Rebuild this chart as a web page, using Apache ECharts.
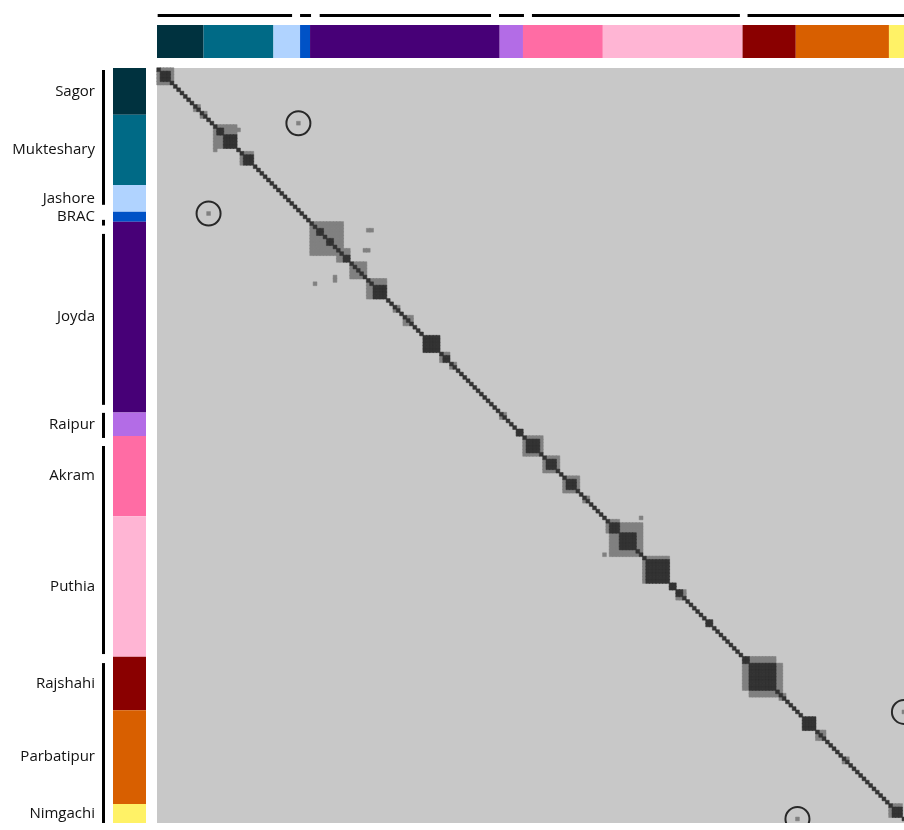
<!DOCTYPE html>
<html><head><meta charset="utf-8">
<script src="https://cdn.jsdelivr.net/npm/echarts@6/dist/echarts.min.js"></script>
<style>html,body{margin:0;padding:0;background:#fff;overflow:hidden;} #c{width:920px;height:823px;}</style>
</head><body><div id="c"></div>
<script>
// ---- data ----
const populations = ['Sagor','Mukteshary','Jashore','BRAC','Joyda','Raipur','Akram','Puthia','Rajshahi','Parbatipur','Nimgachi'];
const popSizes    = [14, 21, 8, 3, 57, 7, 24, 42, 16, 28, 6];
const popColors   = ['#00323f','#006a86','#b0d3ff','#0052c6','#470077','#b36ce6','#ff6ca4','#ffb5d4','#8a0000','#d85f00','#fff266'];
// group brackets (start, end in individual-index units)
const topBrackets  = [[0.2,40.6],[43,46.3],[48.9,100.4],[102.8,110.3],[112.7,175.2],[177.5,226]];
const leftBrackets = [[0.6,40.9],[45.4,47.1],[49.6,100.7],[103.1,110.6],[113,175.2],[177.9,226]];
// square blocks along the diagonal: [first individual, size]
const mediumBlocks = [[0,5],[11,2],[13,2],[17,7],[25,4],[46,10],[54,4],[58,5],[63,6],[71,2],[74,3],[85,3],[88,2],
  [103,2],[110,6],[116,5],[122,5],[128,2],[135,4],[136,10],[146,8],[156,3],[157,2],
  [176,10],[178,10],[187,2],[198,3],[206,2],[220,4]];
const darkBlocks = [[1,3],[18,2],[20,4],[26,3],[48,2],[51,2],[56,2],[65,4],[80,5],[86,2],
  [108,2],[111,4],[117,3],[123,3],[136,3],[139,5],[147,7],[154,2],[156,2],[165,2],
  [176,2],[178,8],[194,4],[221,3]];
// isolated off-diagonal cells of intermediate relatedness: [column, row]
const offDiagonal = [[42,16],[15,43],[24,18],[17,24],[63,48],[64,48],[62,54],[63,54],[53,62],[53,63],[47,64],
  [145,134],[134,145],[224,192],[192,224]];
// circled cells
const circled = [[42,16],[15,43],[224,192],[192,224]];
// relatedness levels -> colours
const levelColors = {1:'#808080', 2:'#333333'};

// ---- layout ----
const N = popSizes.reduce((a,b)=>a+b,0);
const CX = 3.327, CY = 3.345;
const W = N*CX, H = N*CY;
const ids = Array.from({length:N},(_,i)=>String(i));

const level = new Map();
function setCell(x,y,v){const k=x+','+y; if((level.get(k)||0)<v) level.set(k,v);}
mediumBlocks.forEach(([s,n])=>{for(let i=s;i<s+n;i++)for(let j=s;j<s+n;j++)setCell(i,j,1);});
offDiagonal.forEach(([x,y])=>setCell(x,y,1));
darkBlocks.forEach(([s,n])=>{for(let i=s;i<s+n;i++)for(let j=s;j<s+n;j++)setCell(i,j,2);});
for(let i=0;i<N;i++) setCell(i,i,2);
const cells=[]; level.forEach((v,k)=>{const p=k.split(',').map(Number); cells.push([p[0],p[1],v]);});
cells.sort((a,b)=>a[2]-b[2]);
const heatData = cells.map(c=>({value:c, itemStyle:{borderColor:levelColors[c[2]], borderWidth:0.5}}));

const FONT = 'Open Sans';
const series = [];
series.push({type:'heatmap', xAxisIndex:0, yAxisIndex:0, data:heatData, silent:true, progressive:0,
  emphasis:{disabled:true}, z:2});
series.push({type:'scatter', xAxisIndex:0, yAxisIndex:0, data:circled, symbol:'circle', symbolSize:24, silent:true,
  itemStyle:{color:'rgba(0,0,0,0)', borderColor:'#000', borderWidth:2}, z:5});
populations.forEach((p,k)=>{
  series.push({type:'bar', name:p, xAxisIndex:1, yAxisIndex:1, stack:'top', barWidth:'100%', silent:true,
    data:[popSizes[k]], itemStyle:{color:popColors[k]}});
});
populations.forEach((p,k)=>{
  series.push({type:'bar', name:p+' ', xAxisIndex:2, yAxisIndex:2, stack:'left', barWidth:'100%', silent:true,
    data:[popSizes[k]], itemStyle:{color:popColors[k]},
    label:{show:true, position:'left', distance:18, formatter:p, fontFamily:FONT, fontSize:15, color:'#111'}});
});
series.push({type:'custom', xAxisIndex:3, yAxisIndex:3, data:topBrackets, silent:true,
  renderItem:(params,api)=>{const a=api.coord([api.value(0),0.5]), b=api.coord([api.value(1),0.5]);
    return {type:'line', shape:{x1:a[0],y1:a[1],x2:b[0],y2:b[1]}, style:{stroke:'#000', lineWidth:3}};}});
series.push({type:'custom', xAxisIndex:4, yAxisIndex:4, data:leftBrackets, silent:true,
  renderItem:(params,api)=>{const a=api.coord([0.5,api.value(0)]), b=api.coord([0.5,api.value(1)]);
    return {type:'line', shape:{x1:a[0],y1:a[1],x2:b[0],y2:b[1]}, style:{stroke:'#000', lineWidth:3}};}});

const gb = {outerBoundsMode:'none'};
const option = {
  animation:false,
  backgroundColor:'#fff',
  grid:[
    Object.assign({left:157, top:68, width:W, height:H, show:true, backgroundColor:'#c8c8c8', borderWidth:0}, gb),
    Object.assign({left:157, top:25, width:W, height:33}, gb),
    Object.assign({left:113, top:68, width:33, height:H}, gb),
    Object.assign({left:157, top:10.5, width:W, height:10}, gb),
    Object.assign({left:98.5, top:68, width:10, height:H}, gb)
  ],
  xAxis:[
    {type:'category', gridIndex:0, data:ids, show:false},
    {type:'value', gridIndex:1, min:0, max:N, show:false},
    {type:'category', gridIndex:2, data:['p'], show:false},
    {type:'value', gridIndex:3, min:0, max:N, show:false},
    {type:'value', gridIndex:4, min:0, max:1, show:false}
  ],
  yAxis:[
    {type:'category', gridIndex:0, data:ids, inverse:true, show:false},
    {type:'category', gridIndex:1, data:['p'], show:false},
    {type:'value', gridIndex:2, min:0, max:N, inverse:true, show:false},
    {type:'value', gridIndex:3, min:0, max:1, show:false},
    {type:'value', gridIndex:4, min:0, max:N, inverse:true, show:false}
  ],
  visualMap:{type:'piecewise', show:false, seriesIndex:0, dimension:2,
    pieces:[{value:1, color:levelColors[1]},{value:2, color:levelColors[2]}]},
  series
};
const chart = echarts.init(document.getElementById('c'), null, {renderer:'canvas'});
chart.setOption(option);
</script></body></html>
